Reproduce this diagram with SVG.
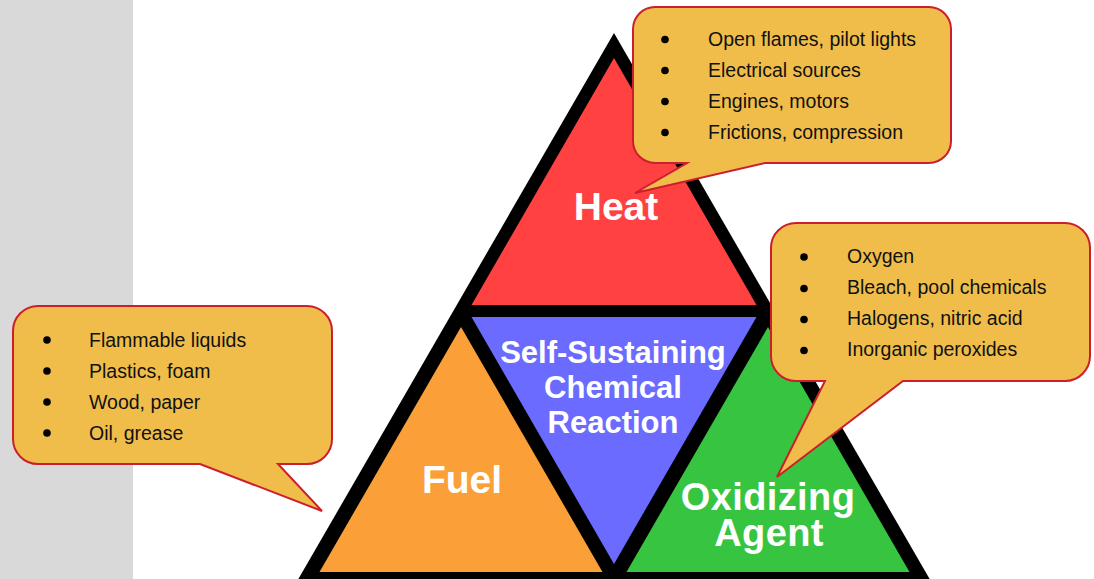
<svg xmlns="http://www.w3.org/2000/svg" width="1094" height="579" viewBox="0 0 1094 579">
<style>
.lbl{font-family:"Liberation Sans",Arial,sans-serif;font-weight:bold;fill:#ffffff;text-anchor:middle}
.big{font-size:39px}
.ox{font-size:38px}
.mid{font-size:31px}
.call{fill:#f0bd4b;stroke:#cc1f2e;stroke-width:2;stroke-linejoin:miter}
.item{font-family:"Liberation Sans",Arial,sans-serif;font-size:19.5px;fill:#111111}
.dot{fill:#000000}
</style>
<rect id="sidebar" x="0" y="0" width="133" height="579" fill="#d9d9d9"/>
<g id="triangle-frame">
<polygon points="614,33 292,590 936,590" fill="#000000"/>
</g>
<g id="node-heat">
<polygon points="614,58 471.5,305 756.5,305" fill="#ff4141"/>
<text class="lbl big" x="616" y="220">Heat</text>
</g>
<g id="node-reaction">
<polygon points="471.5,317 756.5,317 614,564" fill="#6b6bff"/>
<text class="lbl mid" x="613" y="363">Self-Sustaining<tspan x="613" dy="35">Chemical</tspan><tspan x="613" dy="35">Reaction</tspan></text>
</g>
<g id="node-fuel">
<polygon points="461,327 319.5,572 602.5,572" fill="#fba038"/>
<text class="lbl big" x="462" y="493">Fuel</text>
</g>
<g id="node-oxidizer">
<polygon points="768,327 626.5,572 909.5,572" fill="#37c440"/>
<text class="lbl ox" x="768" y="509.5" letter-spacing="0.4">Oxidizing<tspan x="769" dy="36.5">Agent</tspan></text>
</g>
<g id="connectors"></g>
<g id="callout-heat">
<path class="call" d="M655,7 H929 A22,22 0 0 1 951,29 V141 A22,22 0 0 1 929,163 H765 L635,193 L687,163 H655 A22,22 0 0 1 633,141 V29 A22,22 0 0 1 655,7 Z"/>
<circle class="dot" cx="665" cy="39.5" r="3.8"/>
<circle class="dot" cx="665" cy="70.5" r="3.8"/>
<circle class="dot" cx="665" cy="101.5" r="3.8"/>
<circle class="dot" cx="665" cy="132.5" r="3.8"/>
<text class="item" x="708" y="46">Open flames, pilot lights</text>
<text class="item" x="708" y="77">Electrical sources</text>
<text class="item" x="708" y="108">Engines, motors</text>
<text class="item" x="708" y="139">Frictions, compression</text>
</g>
<g id="callout-oxidizer">
<path class="call" d="M796,223 H1065 A25,25 0 0 1 1090,248 V356 A25,25 0 0 1 1065,381 H903 L777,477 L825,381 H796 A25,25 0 0 1 771,356 V248 A25,25 0 0 1 796,223 Z"/>
<circle class="dot" cx="804" cy="257" r="3.8"/>
<circle class="dot" cx="804" cy="288.5" r="3.8"/>
<circle class="dot" cx="804" cy="319.5" r="3.8"/>
<circle class="dot" cx="804" cy="350.5" r="3.8"/>
<text class="item" x="847" y="263">Oxygen</text>
<text class="item" x="847" y="294">Bleach, pool chemicals</text>
<text class="item" x="847" y="325">Halogens, nitric acid</text>
<text class="item" x="847" y="356">Inorganic peroxides</text>
</g>
<g id="callout-fuel">
<path class="call" d="M38,306 H307 A25,25 0 0 1 332,331 V439 A25,25 0 0 1 307,464 H278 L322,511 L200,464 H38 A25,25 0 0 1 13,439 V331 A25,25 0 0 1 38,306 Z"/>
<circle class="dot" cx="47" cy="340" r="3.8"/>
<circle class="dot" cx="47" cy="371" r="3.8"/>
<circle class="dot" cx="47" cy="402" r="3.8"/>
<circle class="dot" cx="47" cy="433" r="3.8"/>
<text class="item" x="89" y="347">Flammable liquids</text>
<text class="item" x="89" y="378">Plastics, foam</text>
<text class="item" x="89" y="409">Wood, paper</text>
<text class="item" x="89" y="440">Oil, grease</text>
</g>
</svg>
